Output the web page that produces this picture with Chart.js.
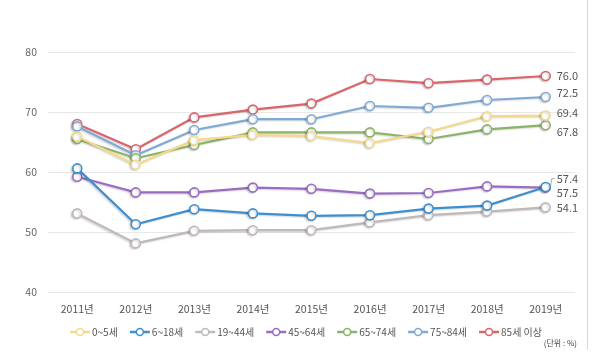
<!DOCTYPE html>
<html><head><meta charset="utf-8">
<script src="https://cdn.jsdelivr.net/npm/chart.js@4.4.0/dist/chart.umd.min.js"></script>
<style>html,body{margin:0;padding:0;background:#fff;}#wrap{width:600px;height:357px;position:relative;}</style>
</head><body><div id="wrap"><canvas id="c" width="600" height="357"></canvas></div>
<script>
const years = ['2011년','2012년','2013년','2014년','2015년','2016년','2017년','2018년','2019년'];
const seriesNames = ['0~5세','6~18세','19~44세','45~64세','65~74세','75~84세','85세 이상'];
const s0_5   = [65.9, 61.2, 65.3, 66.2, 66.0, 64.8, 66.7, 69.3, 69.4];
const s6_18  = [60.6, 51.3, 53.8, 53.1, 52.7, 52.8, 53.9, 54.4, 57.5];
const s19_44 = [53.1, 48.1, 50.2, 50.3, 50.3, 51.6, 52.8, 53.4, 54.1];
const s45_64 = [59.2, 56.6, 56.6, 57.4, 57.2, 56.4, 56.5, 57.6, 57.4];
const s65_74 = [65.5, 62.3, 64.5, 66.6, 66.6, 66.6, 65.5, 67.1, 67.8];
const s75_84 = [67.6, 62.8, 67.0, 68.8, 68.8, 71.0, 70.7, 72.0, 72.5];
const s85    = [68.0, 63.8, 69.1, 70.4, 71.4, 75.5, 74.8, 75.4, 76.0];
const yTicks = [40, 50, 60, 70, 80];
const unitLabel = '(단위 : %)';

const colors = ['#f5d98a','#3d8fd0','#c0b8bb','#9a6cc2','#8bb46a','#80aad6','#d9666d'];
const labelDy = [-3, 6, 0, -9, 7, -4, 0];
const allData = [s0_5, s6_18, s19_44, s45_64, s65_74, s75_84, s85];
const FONT = '"Noto Sans CJK KR", "Noto Sans", sans-serif';

const datasets = allData.map((d, i) => ({
  label: seriesNames[i],
  data: d,
  borderColor: colors[i],
  backgroundColor: '#fff',
  pointBackgroundColor: '#fff',
  pointBorderColor: colors[i],
  pointRadius: 4.5,
  pointBorderWidth: 1.6,
  borderWidth: 2.2,
  tension: 0,
  clip: false
}));

const shadowPlugin = {
  id: 'shadow',
  beforeDatasetsDraw(chart) {
    const ctx = chart.ctx; ctx.save();
    ctx.shadowColor = 'rgba(0,0,0,0.16)'; ctx.shadowBlur = 1.5; ctx.shadowOffsetX = -1.5; ctx.shadowOffsetY = 1;
  },
  afterDatasetsDraw(chart) { chart.ctx.restore(); }
};

const extrasPlugin = {
  id: 'extras',
  afterDraw(chart) {
    const ctx = chart.ctx;
    ctx.save();
    // end labels
    ctx.font = '11px ' + FONT;
    ctx.fillStyle = '#555';
    ctx.textBaseline = 'middle';
    ctx.textAlign = 'left';
    chart.data.datasets.forEach((ds, i) => {
      const meta = chart.getDatasetMeta(i);
      const p = meta.data[meta.data.length - 1];
      const v = ds.data[ds.data.length - 1];
      ctx.fillText(v.toFixed(1), p.x + 11, p.y + labelDy[i]);
      if (i === 3) {
        ctx.strokeStyle = '#999'; ctx.lineWidth = 0.8;
        ctx.beginPath(); ctx.moveTo(p.x + 5, p.y - 2); ctx.lineTo(p.x + 6, p.y + labelDy[i]); ctx.lineTo(p.x + 9, p.y + labelDy[i]); ctx.stroke();
      }
    });
    // legend
    ctx.font = '10px ' + FONT;
    const lineW = 20, gapLT = 2, gapItem = 12;
    const widths = seriesNames.map(n => lineW + gapLT + ctx.measureText(n).width);
    const total = widths.reduce((a, b) => a + b, 0) + gapItem * (widths.length - 1);
    let x = 306 - total / 2;
    const ly = 332;
    seriesNames.forEach((n, i) => {
      ctx.strokeStyle = colors[i]; ctx.lineWidth = 2.5;
      ctx.beginPath(); ctx.moveTo(x, ly); ctx.lineTo(x + lineW, ly); ctx.stroke();
      ctx.fillStyle = '#fff'; ctx.lineWidth = 1.5;
      ctx.beginPath(); ctx.arc(x + lineW / 2, ly, 3.5, 0, Math.PI * 2); ctx.fill(); ctx.stroke();
      ctx.fillStyle = '#555';
      ctx.fillText(n, x + lineW + gapLT, ly);
      x += widths[i] + gapItem;
    });
    // unit
    ctx.font = '8px ' + FONT;
    ctx.fillStyle = '#444';
    ctx.textAlign = 'right';
    ctx.fillText(unitLabel, 577, 343);
    // right frame line
    ctx.strokeStyle = '#d8d8d8'; ctx.lineWidth = 1;
    ctx.beginPath(); ctx.moveTo(587.5, 0); ctx.lineTo(587.5, 350); ctx.stroke();
    ctx.restore();
  }
};

new Chart(document.getElementById('c'), {
  type: 'line',
  data: { labels: years, datasets },
  options: {
    responsive: false,
    animation: false,
    layout: { padding: { top: 52, right: 25, left: 0, bottom: 0 } },
    plugins: { legend: { display: false }, tooltip: { enabled: false } },
    scales: {
      x: {
        offset: true,
        grid: { display: false, drawTicks: false },
        border: { display: false },
        ticks: { color: '#555', font: { family: FONT, size: 10.5 }, padding: 11, maxRotation: 0 },
        afterFit(s) { s.height = 65; }
      },
      y: {
        min: 40, max: 80,
        afterBuildTicks(s) { s.ticks = yTicks.map(v => ({ value: v })); },
        grid: { color: '#e8e8e8', drawTicks: false, lineWidth: 1 },
        border: { display: false },
        ticks: { color: '#666', font: { family: FONT, size: 10.5 }, padding: 11 },
        afterFit(s) { s.width = 48; }
      }
    }
  },
  plugins: [shadowPlugin, extrasPlugin]
});
</script></body></html>
